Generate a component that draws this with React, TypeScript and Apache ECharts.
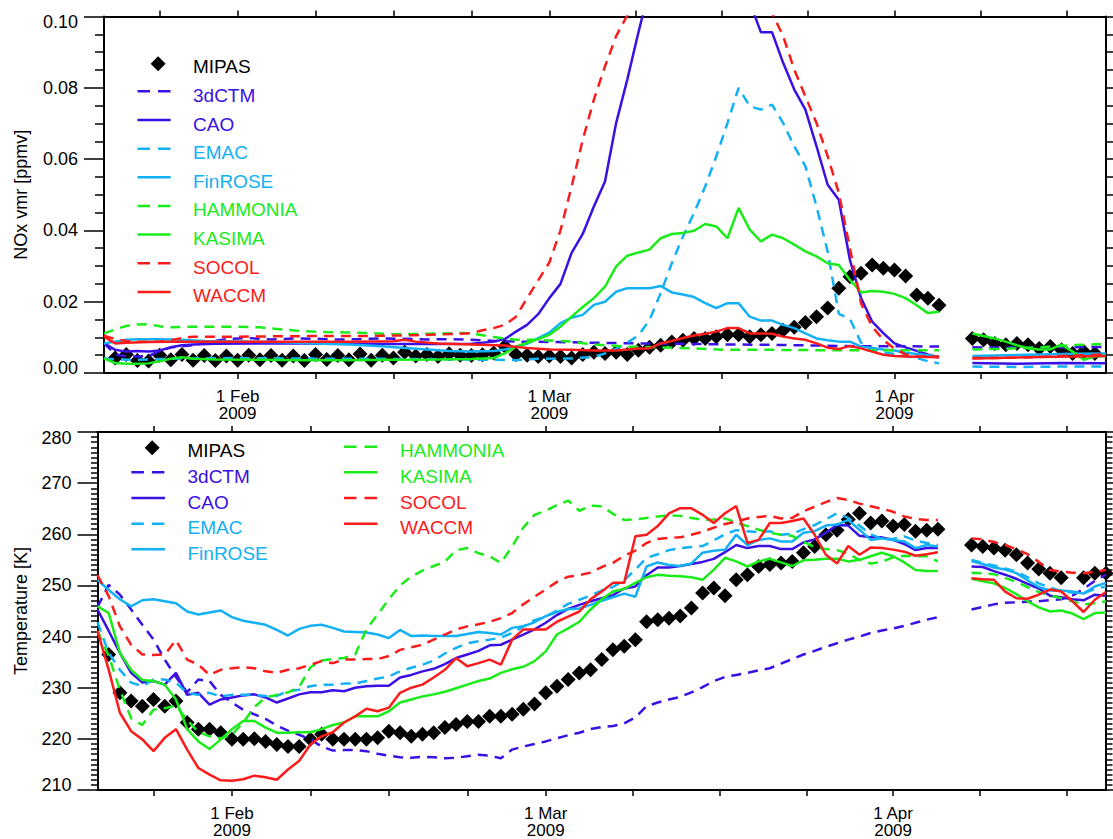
import React, { useEffect, useRef } from 'react';
import * as echarts from 'echarts';

// ---------- axis definitions (days since 20 Jan 2009) ----------
const DAY_MIN = 0;
const DAY_MAX = 90;
const TICK_DAYS = [5, 12, 19, 26, 33, 40, 47.75, 55.5, 63.25, 71, 78.75, 86.5];
const LABEL_DAYS = [12, 40, 71];
const LABEL_TEXT = ['1 Feb', '1 Mar', '1 Apr'];
const YEAR = '2009';

const NAMES = ['MIPAS', '3dCTM', 'CAO', 'EMAC', 'FinROSE', 'HAMMONIA', 'KASIMA', 'SOCOL', 'WACCM'];
const COLORS = ['#000000', '#3a10e5', '#3a10e5', '#12b0f4', '#12b0f4', '#1aec1a', '#1aec1a', '#fb1b1b', '#fb1b1b'];
const DASHED = [false, true, false, true, false, true, false, true, false];

// ---------- NOx (top panel), ppmv ----------
const NOX_MIPAS_A = [
  0.0042, 0.0052, 0.0035, 0.0034, 0.005, 0.0037, 0.0052, 0.0036, 0.0049, 0.0035,
  0.0048, 0.0036, 0.005, 0.0037, 0.0049, 0.0036, 0.0048, 0.0035, 0.0052, 0.0038,
  0.0049, 0.0037, 0.0053, 0.0036, 0.005, 0.0042, 0.0058, 0.0048, 0.0052, 0.0046,
  0.0054, 0.005, 0.0049, 0.0051, 0.0056, 0.0075, 0.0052, 0.005, 0.0046, 0.0048,
  0.0046, 0.0042, 0.0052, 0.0058, 0.0055, 0.0058, 0.0052, 0.0064, 0.0072, 0.0078,
  0.0087, 0.0092, 0.0097, 0.0097, 0.0102, 0.0107, 0.0107, 0.0102, 0.0107, 0.0111,
  0.012, 0.0128, 0.0142, 0.0158, 0.0182, 0.0238, 0.027, 0.028, 0.0303, 0.0294,
  0.0289, 0.0272, 0.0219, 0.021, 0.019,
]; // days 1..75
const NOX_MIPAS_B = [0.0097, 0.0093, 0.0083, 0.0079, 0.0083, 0.0079, 0.0069, 0.0074, 0.0065, 0.0055, 0.006, 0.0055]; // days 78..89

const NOX_3DCTM_A = [[0, 0.0084], [1, 0.0052], [2, 0.0047], [3, 0.0046], [4, 0.0048], [5, 0.0062], [6, 0.0072], [7, 0.0075], [8, 0.0078], [9, 0.0085], [11, 0.0095], [13, 0.0098], [15, 0.0094], [17, 0.0097], [19, 0.0096], [21, 0.0094], [23, 0.0095], [25, 0.0097], [27, 0.0096], [29, 0.0094], [31, 0.0095], [33, 0.0093], [35, 0.009], [37, 0.0088], [40, 0.0087], [44, 0.0085], [48, 0.0083], [52, 0.0082], [56, 0.008], [60, 0.0079], [64, 0.0077], [68, 0.0075], [72, 0.0075], [75, 0.0074]];
const NOX_3DCTM_B = [[78, 0.0072], [82, 0.0071], [86, 0.0072], [90, 0.0073]];

const NOX_CAO_A = [[0, 0.0084], [1, 0.0065], [2, 0.006], [3, 0.0062], [4, 0.006], [5, 0.0063], [6, 0.0072], [7, 0.0078], [8, 0.008], [10, 0.0082], [14, 0.0083], [18, 0.0083], [22, 0.0082], [26, 0.0081], [30, 0.0081], [33, 0.0082], [35, 0.0088], [36, 0.0095], [37, 0.0116], [38, 0.0135], [39, 0.0165], [40, 0.021], [41, 0.025], [42, 0.0337], [43, 0.039], [44, 0.0467], [45, 0.0537], [46, 0.0701], [47, 0.0823], [48, 0.0955], [49, 0.108], [50, 0.12], [51, 0.13], [52, 0.135], [53, 0.135], [54, 0.13], [55, 0.125], [56, 0.117], [57, 0.11], [58, 0.104], [59, 0.0956], [60, 0.0956], [61, 0.087], [62, 0.0795], [63, 0.0739], [64, 0.0636], [65, 0.0528], [66, 0.0486], [67, 0.0317], [68, 0.021], [69, 0.0144], [70, 0.0112], [71, 0.0083], [72, 0.0072], [73, 0.0062], [74, 0.0052], [75, 0.0043]];
const NOX_CAO_B = [[78, 0.0028], [82, 0.0026], [86, 0.0028], [90, 0.0027]];

const NOX_EMAC_A = [[0, 0.0041], [1, 0.0038], [3, 0.0037], [5, 0.0039], [8, 0.0041], [12, 0.0042], [16, 0.0041], [20, 0.004], [24, 0.004], [28, 0.0039], [32, 0.0038], [35, 0.0037], [37, 0.0036], [39, 0.004], [42, 0.0041], [44, 0.0045], [45, 0.0055], [46, 0.0068], [47, 0.0085], [48, 0.0105], [49, 0.0149], [50, 0.0224], [51, 0.0308], [52, 0.0383], [53, 0.0449], [54, 0.0523], [55, 0.0608], [56, 0.0701], [57, 0.08], [58, 0.0748], [59, 0.0739], [60, 0.0753], [61, 0.0701], [62, 0.0636], [63, 0.058], [64, 0.0467], [65, 0.034], [66, 0.0166], [67, 0.0152], [68, 0.0085], [69, 0.0066], [70, 0.0058], [71, 0.0053], [72, 0.0047], [73, 0.0042], [74, 0.0033], [75, 0.0027]];
const NOX_EMAC_B = [[78, 0.0018], [82, 0.0017], [86, 0.0018], [90, 0.0018]];

const NOX_FINROSE_A = [[0, 0.0083], [1, 0.0088], [2, 0.0093], [3, 0.0095], [5, 0.0095], [7, 0.0093], [9, 0.009], [11, 0.0089], [13, 0.0088], [16, 0.0086], [19, 0.0083], [22, 0.008], [25, 0.0075], [27, 0.007], [29, 0.0066], [31, 0.0062], [33, 0.006], [35, 0.0062], [36, 0.0066], [37, 0.0074], [38, 0.0082], [39, 0.0098], [40, 0.0113], [41, 0.014], [42, 0.0155], [43, 0.0163], [44, 0.0191], [45, 0.02], [46, 0.0228], [47, 0.0238], [48, 0.0238], [49, 0.0238], [50, 0.0244], [51, 0.0226], [52, 0.022], [53, 0.0213], [54, 0.0196], [55, 0.0182], [56, 0.0196], [57, 0.0196], [58, 0.0158], [59, 0.0147], [60, 0.0147], [61, 0.0135], [62, 0.0126], [63, 0.0111], [64, 0.0097], [65, 0.0092], [66, 0.0088], [67, 0.0088], [68, 0.0074], [69, 0.007], [70, 0.0066], [71, 0.0063], [72, 0.0057], [73, 0.0053], [74, 0.005], [75, 0.0046]];
const NOX_FINROSE_B = [[78, 0.0048], [81, 0.005], [84, 0.0052], [87, 0.0054], [90, 0.0055]];

const NOX_HAMMONIA_A = [[0, 0.0111], [1, 0.0122], [2, 0.0132], [3, 0.0136], [4, 0.0137], [5, 0.0131], [6, 0.0128], [8, 0.013], [10, 0.013], [12, 0.013], [14, 0.0128], [16, 0.0122], [18, 0.0117], [20, 0.0115], [23, 0.0113], [26, 0.0109], [29, 0.011], [32, 0.0112], [33, 0.0111], [35, 0.0101], [37, 0.0093], [39, 0.0093], [42, 0.0088], [44, 0.008], [47, 0.0074], [50, 0.0072], [53, 0.0069], [56, 0.0065], [60, 0.0065], [64, 0.0064], [68, 0.0064], [72, 0.0064], [75, 0.0064]];
const NOX_HAMMONIA_B = [[78, 0.0066], [81, 0.0068], [84, 0.0072], [87, 0.0078], [90, 0.0082]];

const NOX_KASIMA_A = [[0, 0.0041], [1, 0.0028], [2, 0.0026], [3, 0.0026], [4, 0.0027], [5, 0.0033], [6, 0.004], [7, 0.0044], [8, 0.004], [10, 0.0038], [14, 0.0037], [18, 0.0036], [22, 0.0036], [26, 0.0037], [30, 0.0038], [33, 0.0039], [35, 0.0042], [36, 0.0055], [37, 0.0074], [38, 0.0085], [39, 0.0095], [40, 0.0107], [41, 0.013], [42, 0.0158], [43, 0.0185], [44, 0.021], [45, 0.0242], [46, 0.0299], [47, 0.0329], [48, 0.0338], [49, 0.0346], [50, 0.0378], [51, 0.039], [52, 0.0393], [53, 0.0399], [54, 0.0418], [55, 0.0411], [56, 0.0378], [57, 0.0463], [58, 0.0402], [59, 0.0369], [60, 0.0388], [61, 0.0378], [62, 0.036], [63, 0.0341], [64, 0.0327], [65, 0.0308], [66, 0.0303], [67, 0.0261], [68, 0.0226], [69, 0.023], [70, 0.0228], [71, 0.0222], [72, 0.021], [73, 0.019], [74, 0.0168], [75, 0.0172]];
const NOX_KASIMA_B = [[78, 0.0111], [79, 0.0104], [80, 0.0097], [81, 0.0088], [82, 0.0078], [83, 0.0069], [84, 0.0066], [85, 0.0066], [86, 0.008], [87, 0.006], [88, 0.0037], [89, 0.0046], [90, 0.0048]];

const NOX_SOCOL_A = [[0, 0.0105], [1, 0.0095], [2, 0.009], [3, 0.0088], [5, 0.0088], [6, 0.0092], [7, 0.0098], [8, 0.0102], [12, 0.0102], [16, 0.0103], [20, 0.0104], [24, 0.0104], [28, 0.0106], [30, 0.0108], [32, 0.011], [33, 0.0112], [34, 0.012], [35, 0.0126], [36, 0.0135], [37, 0.0158], [38, 0.021], [39, 0.026], [40, 0.031], [41, 0.04], [42, 0.0523], [43, 0.0654], [44, 0.0767], [45, 0.086], [46, 0.0945], [47, 0.1003], [48, 0.11], [49, 0.12], [50, 0.13], [51, 0.138], [52, 0.143], [53, 0.145], [54, 0.143], [55, 0.138], [56, 0.13], [57, 0.12], [58, 0.112], [59, 0.106], [60, 0.101], [61, 0.0945], [62, 0.0851], [63, 0.0776], [64, 0.0701], [65, 0.0608], [66, 0.0505], [67, 0.035], [68, 0.0195], [69, 0.013], [70, 0.0093], [71, 0.0068], [72, 0.0052], [73, 0.0047], [74, 0.0046], [75, 0.0046]];
const NOX_SOCOL_B = [[78, 0.0042], [80, 0.0042], [82, 0.0043], [84, 0.0045], [86, 0.0048], [88, 0.005], [90, 0.0052]];

const NOX_WACCM_A = [[0, 0.0102], [1, 0.0083], [2, 0.0085], [4, 0.0087], [6, 0.0088], [10, 0.0088], [14, 0.0088], [18, 0.0088], [22, 0.0088], [26, 0.0089], [27, 0.0093], [28, 0.0088], [30, 0.0083], [33, 0.008], [36, 0.0077], [38, 0.007], [40, 0.0066], [42, 0.0065], [44, 0.0063], [46, 0.0063], [47, 0.0066], [48, 0.0069], [49, 0.0069], [50, 0.0083], [51, 0.009], [52, 0.0098], [53, 0.0105], [54, 0.011], [55, 0.0116], [56, 0.0126], [57, 0.0126], [58, 0.0111], [59, 0.0111], [60, 0.011], [61, 0.0102], [62, 0.0097], [63, 0.0093], [64, 0.0083], [65, 0.0071], [66, 0.0067], [67, 0.0076], [68, 0.0069], [69, 0.006], [70, 0.0051], [71, 0.0048], [72, 0.0046], [75, 0.0044]];
const NOX_WACCM_B = [[78, 0.0041], [81, 0.0043], [84, 0.0045], [87, 0.0046], [90, 0.0048]];

// ---------- Temperature (bottom panel), K ----------
const T_MIPAS_A = [
  236.5, 229.0, 227.4, 226.4, 227.7, 226.4, 227.4, 223.2, 221.9, 221.9,
  221.2, 219.9, 219.9, 220.0, 219.5, 218.9, 218.5, 218.5, 219.9, 220.9,
  219.9, 219.9, 219.9, 219.9, 220.2, 221.5, 221.2, 220.5, 220.9, 221.2,
  222.2, 222.8, 223.4, 223.4, 224.4, 224.4, 224.8, 225.8, 226.8, 229.0,
  230.3, 231.6, 232.9, 233.5, 235.5, 237.4, 238.1, 239.4, 242.9, 243.3,
  243.6, 244.0, 245.6, 248.5, 249.5, 248.0, 251.1, 252.1, 253.7, 254.1,
  254.4, 254.7, 256.4, 257.6, 259.9, 260.8, 262.9, 264.1, 262.2, 262.6,
  261.6, 261.9, 260.6, 260.8, 261.0,
]; // days 1..75
const T_MIPAS_B = [257.9, 257.6, 257.3, 256.9, 256.0, 254.4, 253.2, 252.4, 251.5, null, 251.5, 252.4, 252.4]; // days 78..90

const T_3DCTM_A = [
  245.8, 250.1, 248.2, 245.3, 242.3, 239.4, 235.5, 232.1, 229.1, 231.6,
  231.3, 228.6, 227.1, 225.7, 224.8, 223.9, 222.6, 221.6, 220.8, 219.9,
  218.5, 217.7, 217.8, 217.8, 217.6, 217.1, 216.7, 216.4, 216.3, 216.5,
  216.4, 216.2, 216.3, 216.6, 216.9, 216.7, 216.2, 217.9, 218.5, 219.0,
  219.5, 220.1, 220.7, 221.2, 221.9, 222.3, 222.5, 223.0, 224.2, 226.4,
  227.1, 227.7, 228.2, 229.1, 230.1, 231.3, 232.1, 232.5, 232.9, 233.4,
  233.8, 234.7, 235.6, 236.5, 237.2, 238.0, 238.7, 239.4, 240.0, 240.7,
  241.2, 241.6, 242.1, 242.7, 243.3, 243.8,
]; // days 0..75
const T_3DCTM_B = [245.3, 245.8, 246.3, 246.6, 246.7, 246.8, 246.9, 247.1, 247.3, 248.0, 249.3, 250.9, 252.1]; // days 78..90

const T_CAO_A = [
  245.3, 241.1, 236.8, 232.9, 231.0, 231.3, 230.6, 232.9, 228.6, 229.0,
  226.7, 227.7, 228.1, 228.5, 228.7, 228.1, 227.1, 227.9, 228.7, 229.1,
  229.1, 229.5, 229.3, 230.0, 230.3, 230.4, 230.4, 232.0, 232.5, 233.2,
  233.7, 234.6, 235.8, 236.5, 237.2, 238.3, 238.4, 239.4, 240.4, 241.4,
  242.7, 244.2, 245.4, 246.2, 246.9, 247.5, 248.1, 249.4, 249.8, 252.0,
  253.5, 253.5, 253.8, 254.2, 254.6, 255.2, 256.5, 257.9, 257.3, 257.7,
  257.7, 257.1, 257.1, 258.4, 259.0, 260.3, 261.8, 261.7, 259.7, 259.4,
  259.4, 258.9, 258.1, 256.9, 257.3, 257.3,
];
const T_CAO_B = [253.7, 253.6, 252.8, 252.1, 251.3, 250.3, 249.4, 248.0, 247.7, 247.3, 247.1, 248.2, 248.0];

const T_EMAC_A = [
  242.8, 236.8, 233.5, 231.0, 230.3, 231.6, 231.6, 231.0, 229.0, 228.6,
  229.0, 228.3, 228.6, 228.6, 228.6, 228.4, 228.4, 229.3, 229.6, 230.3,
  230.6, 230.6, 230.8, 230.8, 231.3, 231.8, 232.2, 233.2, 233.9, 234.5,
  235.3, 236.7, 237.8, 238.7, 239.1, 239.4, 239.8, 240.7, 242.0, 243.2,
  243.9, 245.1, 246.4, 247.2, 248.0, 249.0, 249.7, 251.0, 253.1, 255.4,
  256.1, 256.9, 257.3, 257.5, 257.7, 258.8, 260.0, 260.8, 260.6, 260.4,
  260.6, 259.9, 260.1, 261.0, 261.8, 262.9, 264.1, 263.2, 261.7, 260.0,
  259.1, 259.1, 259.6, 258.8, 258.3, 257.9,
];
const T_EMAC_B = [255.0, 254.4, 253.9, 253.3, 252.7, 251.6, 250.4, 249.6, 248.9, 248.6, 248.5, 249.3, 249.8];

const T_FINROSE_A = [
  251.1, 249.1, 247.3, 245.9, 247.1, 247.3, 246.9, 246.5, 244.9, 244.3,
  244.7, 245.1, 243.8, 243.1, 242.7, 242.3, 241.3, 240.2, 241.5, 242.1,
  242.3, 241.7, 241.0, 240.9, 240.8, 240.4, 239.7, 241.3, 240.1, 240.2,
  240.1, 240.1, 240.1, 240.5, 240.9, 240.7, 240.4, 241.7, 242.0, 242.8,
  244.0, 244.8, 245.4, 245.5, 246.2, 247.0, 247.7, 248.4, 247.8, 253.7,
  254.5, 254.0, 253.8, 254.3, 256.4, 256.8, 257.0, 259.9, 257.9, 258.9,
  259.2, 258.6, 258.6, 260.3, 260.6, 261.7, 261.9, 262.8, 260.9, 258.9,
  259.2, 258.9, 258.6, 257.3, 257.9, 257.6,
];
const T_FINROSE_B = [254.7, 254.2, 253.5, 253.1, 252.4, 251.0, 249.7, 249.0, 249.0, 248.8, 248.4, 249.8, 250.5];

const T_HAMMONIA_A = [
  241.1, 236.2, 229.6, 224.0, 222.7, 225.7, 226.0, 226.5, 223.7, 221.3,
  220.5, 220.1, 220.8, 223.2, 226.2, 228.1, 228.6, 229.1, 230.1, 234.0,
  235.3, 235.6, 235.8, 236.5, 241.4, 244.3, 247.3, 250.0, 251.7, 252.9,
  253.8, 254.6, 256.9, 257.3, 256.3, 255.7, 254.4, 257.6, 261.3, 263.8,
  264.6, 265.7, 266.6, 264.6, 265.6, 265.5, 264.0, 262.8, 262.9, 263.2,
  263.5, 263.7, 263.6, 263.2, 262.8, 262.9, 263.1, 262.3, 261.6, 260.9,
  260.3, 259.9, 259.7, 258.5, 257.5, 257.1, 256.9, 256.2, 255.0, 254.3,
  254.6, 255.5, 255.8, 255.7, 255.7, 254.7,
];
const T_HAMMONIA_B_PTS = [[78, 252.5], [80, 252.2], [82, 250.7], [84, 248.7], [86, 247.5], [88, 246.3], [89, 246.5], [90, 246.9]];

const T_KASIMA_A = [
  245.9, 244.6, 236.8, 233.5, 231.5, 231.3, 230.6, 227.7, 221.9, 219.5,
  218.0, 219.9, 221.9, 223.5, 223.5, 222.2, 221.2, 221.2, 221.3, 221.3,
  221.9, 222.7, 223.2, 224.4, 224.4, 224.4, 225.4, 227.1, 227.7, 228.3,
  228.7, 229.2, 229.9, 230.6, 231.3, 231.8, 232.9, 233.6, 234.1, 235.2,
  237.1, 240.4, 241.6, 242.9, 245.3, 247.3, 248.8, 249.3, 250.5, 251.6,
  252.1, 251.9, 251.8, 251.6, 251.1, 253.1, 255.4, 254.7, 253.7, 254.7,
  255.2, 254.5, 253.8, 254.9, 255.0, 255.2, 255.2, 254.7, 255.0, 255.7,
  256.4, 255.7, 254.5, 253.0, 252.8, 252.8,
];
const T_KASIMA_B = [251.3, 250.8, 250.4, 249.5, 248.3, 246.9, 245.7, 244.9, 245.1, 244.5, 243.4, 244.6, 244.7];

const T_SOCOL_A = [
  252.0, 247.9, 242.0, 238.4, 236.5, 236.4, 236.5, 239.3, 235.5, 234.5,
  232.5, 233.5, 233.8, 234.0, 233.8, 233.2, 232.9, 233.5, 233.8, 234.5,
  235.2, 234.8, 235.5, 235.5, 235.6, 235.6, 236.2, 237.4, 237.9, 238.4,
  239.4, 240.4, 241.4, 242.0, 242.4, 242.9, 243.6, 244.6, 246.3, 247.8,
  249.2, 250.7, 251.7, 252.0, 252.5, 253.6, 254.4, 255.8, 256.8, 258.3,
  259.1, 259.3, 259.4, 259.9, 260.5, 261.3, 262.0, 262.5, 263.1, 263.4,
  263.6, 263.1, 263.2, 264.5, 265.4, 266.3, 267.1, 266.7, 266.0, 265.5,
  265.0, 264.4, 263.5, 263.0, 262.8, 262.8,
];
const T_SOCOL_B = [259.2, 259.0, 258.5, 257.9, 257.1, 256.1, 254.6, 253.0, 252.7, 252.5, 252.4, 252.7, 253.0];

const T_WACCM_A = [
  241.1, 233.5, 225.1, 221.5, 219.9, 217.6, 220.2, 221.9, 217.9, 214.3,
  213.0, 211.9, 211.8, 212.1, 212.8, 212.5, 212.0, 214.0, 215.7, 218.9,
  220.5, 221.3, 223.2, 224.4, 225.9, 225.4, 226.1, 229.0, 230.0, 230.6,
  232.0, 233.5, 235.8, 234.2, 234.8, 235.5, 234.5, 239.4, 241.4, 241.4,
  241.4, 242.9, 243.9, 244.9, 247.3, 248.8, 250.5, 250.5, 259.6, 259.9,
  261.6, 264.1, 265.1, 265.1, 263.8, 262.2, 264.1, 265.5, 258.3, 258.9,
  262.2, 262.2, 262.6, 263.1, 259.9, 256.0, 254.3, 257.7, 256.0, 257.4,
  257.3, 257.0, 256.6, 255.8, 256.1, 256.5,
];
const T_WACCM_B = [251.4, 251.2, 251.1, 248.8, 247.5, 247.4, 248.2, 249.2, 248.8, 246.9, 244.8, 247.2, 248.7];

// ---------- helpers ----------
const FONT = '"Liberation Sans", Arial, Helvetica, sans-serif';
const GAP_DAY = 76.5;

function daily(start: number, vals: (number | null)[]) {
  const out: any[] = [];
  vals.forEach((v, i) => {
    if (v !== null) out.push([start + i, v]);
  });
  return out;
}
function joined(a: any[], b: any[]) {
  return [...a, [GAP_DAY, '-'], ...b];
}

const TOP_MODELS = [
  joined(NOX_3DCTM_A, NOX_3DCTM_B),
  joined(NOX_CAO_A, NOX_CAO_B),
  joined(NOX_EMAC_A, NOX_EMAC_B),
  joined(NOX_FINROSE_A, NOX_FINROSE_B),
  joined(NOX_HAMMONIA_A, NOX_HAMMONIA_B),
  joined(NOX_KASIMA_A, NOX_KASIMA_B),
  joined(NOX_SOCOL_A, NOX_SOCOL_B),
  joined(NOX_WACCM_A, NOX_WACCM_B),
];
const BOTTOM_MODELS = [
  joined(daily(0, T_3DCTM_A), daily(78, T_3DCTM_B)),
  joined(daily(0, T_CAO_A), daily(78, T_CAO_B)),
  joined(daily(0, T_EMAC_A), daily(78, T_EMAC_B)),
  joined(daily(0, T_FINROSE_A), daily(78, T_FINROSE_B)),
  joined(daily(0, T_HAMMONIA_A), T_HAMMONIA_B_PTS),
  joined(daily(0, T_KASIMA_A), daily(78, T_KASIMA_B)),
  joined(daily(0, T_SOCOL_A), daily(78, T_SOCOL_B)),
  joined(daily(0, T_WACCM_A), daily(78, T_WACCM_B)),
];
const TOP_MIPAS = [...daily(1, NOX_MIPAS_A), ...daily(78, NOX_MIPAS_B)];
const BOTTOM_MIPAS = [...daily(1, T_MIPAS_A), ...daily(78, T_MIPAS_B)];

function labelFor(v: number) {
  const i = LABEL_DAYS.findIndex((d) => Math.abs(d - v) < 0.01);
  return i >= 0 ? LABEL_TEXT[i] + '\n' + YEAR : '';
}

function xAxes(grid: number) {
  const line = { show: true, onZero: false, lineStyle: { color: '#000', width: 2 } };
  const tick = { show: true, customValues: TICK_DAYS, length: 6, lineStyle: { color: '#000', width: 1.5 } };
  return [
    {
      type: 'value', gridIndex: grid, position: 'bottom', min: DAY_MIN, max: DAY_MAX,
      axisLine: line, axisTick: tick, splitLine: { show: false },
      axisLabel: {
        show: true, customValues: LABEL_DAYS, formatter: (v: number) => labelFor(v),
        margin: 15, lineHeight: 17, fontSize: 17, color: '#000', fontFamily: FONT,
      },
    },
    {
      type: 'value', gridIndex: grid, position: 'top', min: DAY_MIN, max: DAY_MAX,
      axisLine: line, axisTick: tick, splitLine: { show: false }, axisLabel: { show: false },
    },
  ];
}

function yAxes(grid: number, min: number, max: number, interval: number, minorSplit: number, minorLen: number,
  digits: number, name: string, nameGap: number) {
  const common = {
    type: 'value', gridIndex: grid, min, max, interval, splitLine: { show: false },
    axisLine: { show: true, onZero: false, lineStyle: { color: '#000', width: 2 } },
    axisTick: { show: true, length: 20, lineStyle: { color: '#000', width: 1.5 } },
    minorTick: { show: true, splitNumber: minorSplit, length: minorLen, lineStyle: { color: '#000', width: 1.5 } },
  };
  const base = { fontSize: 18, color: '#000', fontFamily: FONT };
  return [
    {
      ...common, position: 'left', name, nameLocation: 'middle', nameGap,
      nameTextStyle: { fontSize: 18, color: '#000', fontFamily: FONT },
      axisLabel: {
        margin: 26,
        formatter: (v: number) => {
          const s = v.toFixed(digits);
          if (Math.abs(v - max) < 1e-9) return '{t|' + s + '}';
          if (Math.abs(v - min) < 1e-9) return '{b|' + s + '}';
          return '{n|' + s + '}';
        },
        rich: {
          t: { ...base, padding: [11, 0, 0, 0] },
          b: { ...base, padding: [0, 0, 11, 0] },
          n: { ...base },
        },
      },
    },
    { ...common, position: 'right', axisLabel: { show: false } },
  ];
}

function legendGraphics(
  rows: { idx: number; x0: number; x1: number; tx: number; ty: number }[],
) {
  const els: any[] = [];
  rows.forEach(({ idx, x0, x1, tx, ty }) => {
    if (idx === 0) {
      const cx = (x0 + x1) / 2 + 4;
      const cy = ty - 3;
      els.push({
        type: 'polygon',
        shape: { points: [[cx, cy - 7.5], [cx + 7.5, cy], [cx, cy + 7.5], [cx - 7.5, cy]] },
        style: { fill: '#000' },
      });
    } else {
      els.push({
        type: 'line',
        shape: { x1: x0, y1: ty - 4, x2: x1, y2: ty - 4 },
        style: { stroke: COLORS[idx], lineWidth: 2.5, lineDash: DASHED[idx] ? [12.5, 8] : null },
      });
    }
    els.push({
      type: 'text', x: tx, y: ty,
      style: { text: NAMES[idx], fill: COLORS[idx], fontSize: 19, fontFamily: FONT, verticalAlign: 'middle', align: 'left' },
    });
  });
  return els;
}

function buildOption() {
  const series: any[] = [];
  const panels = [
    { axis: 0, mipas: TOP_MIPAS, models: TOP_MODELS },
    { axis: 2, mipas: BOTTOM_MIPAS, models: BOTTOM_MODELS },
  ];
  panels.forEach((p) => {
    series.push({
      type: 'scatter', name: NAMES[0], xAxisIndex: p.axis, yAxisIndex: p.axis,
      data: p.mipas, symbol: 'diamond', symbolSize: 15,
      itemStyle: { color: '#000', opacity: 1 }, z: 2, clip: true,
    });
    p.models.forEach((data, k) => {
      const idx = k + 1;
      series.push({
        type: 'line', name: NAMES[idx], xAxisIndex: p.axis, yAxisIndex: p.axis,
        data, showSymbol: false, symbol: 'none', connectNulls: false, clip: true, z: 3 + k,
        lineStyle: { color: COLORS[idx], width: 2.5, type: DASHED[idx] ? [10, 7] : 'solid' },
      });
    });
  });

  const topRows = NAMES.map((_, i) => ({ idx: i, x0: 137.5, x1: 170.7, tx: 193, ty: 66.7 + i * 28.65 }));
  const bottomRows = [
    ...[0, 1, 2, 3, 4].map((i, r) => ({ idx: i, x0: 131.4, x1: 165, tx: 187.5, ty: 450.7 + r * 25.65 })),
    ...[5, 6, 7, 8].map((i, r) => ({ idx: i, x0: 344, x1: 377.5, tx: 400, ty: 450.7 + r * 25.65 })),
  ];

  return {
    animation: false,
    backgroundColor: '#ffffff',
    textStyle: { fontFamily: FONT },
    grid: [
      { left: 104, top: 16.5, width: 1002, height: 356.5 },
      { left: 97.5, top: 432, width: 1008.5, height: 358.5 },
    ],
    xAxis: [...xAxes(0), ...xAxes(1)],
    yAxis: [
      ...yAxes(0, 0, 0.1, 0.02, 4, 9, 2, 'NOx vmr [ppmv]', 74),
      ...yAxes(1, 210, 280, 10, 10, 6.5, 0, 'Temperature [K]', 68),
    ],
    series,
    graphic: [...legendGraphics(topRows), ...legendGraphics(bottomRows)],
  };
}

export default function App() {
  const ref = useRef<HTMLDivElement>(null);
  useEffect(() => {
    if (!ref.current) return;
    const chart = echarts.init(ref.current, null, { renderer: 'svg' });
    chart.setOption(buildOption() as any);
    return () => chart.dispose();
  }, []);
  return (
    <div
      ref={ref}
      style={{ position: 'fixed', left: 0, top: 0, width: 1113, height: 839, background: '#fff' }}
    />
  );
}
